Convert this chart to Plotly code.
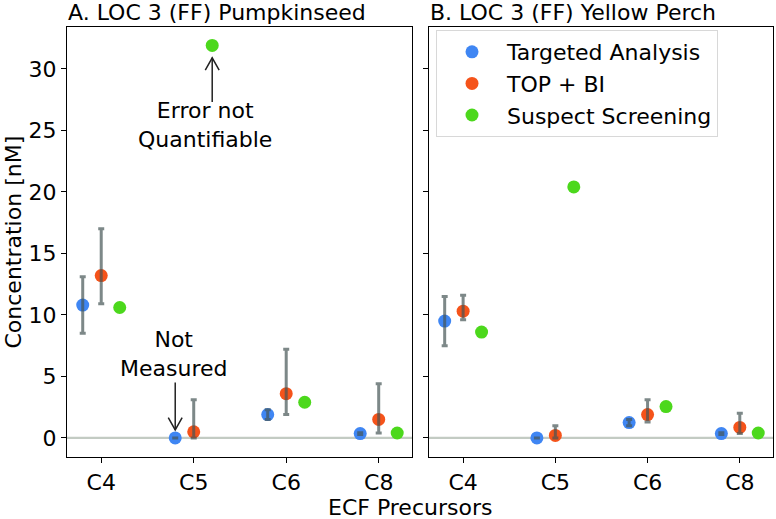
import plotly.graph_objects as go

categories = ["C4", "C5", "C6", "C8"]
series_names = ["Targeted Analysis", "TOP + BI", "Suspect Screening"]
colors = ["#3f86f3", "#f5531a", "#4cd81c"]
offsets = [-0.2, 0.0, 0.2]

# Panel A: LOC 3 (FF) Pumpkinseed
a_targeted = [10.8, 0.0, 1.9, 0.35]
a_targeted_lo = [8.5, 0.0, 1.5, 0.28]
a_targeted_hi = [13.1, 0.0, 2.3, 0.42]
a_top = [13.2, 0.5, 3.6, 1.5]
a_top_lo = [10.9, 0.0, 1.9, 0.4]
a_top_hi = [17.0, 3.1, 7.2, 4.4]
a_suspect = [10.6, 31.9, 2.9, 0.4]

# Panel B: LOC 3 (FF) Yellow Perch
b_targeted = [9.5, 0.0, 1.25, 0.35]
b_targeted_lo = [7.5, 0.0, 1.0, 0.28]
b_targeted_hi = [11.5, 0.0, 1.5, 0.42]
b_top = [10.3, 0.2, 1.9, 0.85]
b_top_lo = [9.6, 0.0, 1.3, 0.35]
b_top_hi = [11.6, 1.0, 3.1, 2.0]
b_suspect = [8.6, 20.4, 2.55, 0.4]

yticks = [0, 5, 10, 15, 20, 25, 30]

FONT = "DejaVu Sans"
FS = 22
ERRC = "rgba(70,85,85,0.7)"

fig = go.Figure()

panels = [
    ("x", "y", [a_targeted, a_top, a_suspect],
     [(a_targeted_lo, a_targeted_hi), (a_top_lo, a_top_hi), None]),
    ("x2", "y2", [b_targeted, b_top, b_suspect],
     [(b_targeted_lo, b_targeted_hi), (b_top_lo, b_top_hi), None]),
]

xs_idx = list(range(len(categories)))
for pi, (xa, ya, vals, errs) in enumerate(panels):
    # zero line
    fig.add_trace(go.Scatter(x=[-1, 5], y=[0, 0], mode="lines",
                             line=dict(color="#c3cbc3", width=2.2),
                             xaxis=xa, yaxis=ya, showlegend=False, hoverinfo="skip"))
    for si in range(3):
        xpos = [i + offsets[si] for i in xs_idx]
        fig.add_trace(go.Scatter(
            x=xpos, y=vals[si], mode="markers", name=series_names[si],
            marker=dict(color=colors[si], size=13, line=dict(width=0)),
            xaxis=xa, yaxis=ya, showlegend=(pi == 1), legendgroup=series_names[si]))
    # error bars drawn on top of markers
    for si in range(3):
        if errs[si] is None:
            continue
        lo, hi = errs[si]
        xpos = [i + offsets[si] for i in xs_idx]
        fig.add_trace(go.Scatter(
            x=xpos, y=vals[si], mode="markers",
            marker=dict(color="rgba(0,0,0,0)", size=1),
            error_y=dict(type="data", symmetric=False,
                         array=[h - v for h, v in zip(hi, vals[si])],
                         arrayminus=[v - l for v, l in zip(vals[si], lo)],
                         color=ERRC, thickness=3, width=3),
            xaxis=xa, yaxis=ya, showlegend=False, hoverinfo="skip"))

W, H = 776, 519
xd1 = [67 / W, 412 / W]
xd2 = [429 / W, 773 / W]
yd = [1 - 457 / H, 1 - 27 / H]

axis_common = dict(showline=True, linecolor="black", linewidth=1.3, mirror=True,
                   ticks="outside", ticklen=5, tickwidth=1.2, tickcolor="black",
                   showgrid=False, zeroline=False,
                   tickfont=dict(family=FONT, size=FS, color="black"))
xrange_ = [-0.37, 3.36]
yrange_ = [-1.55, 33.4]

fig.update_layout(
    width=W, height=H,
    margin=dict(l=0, r=0, t=0, b=0),
    paper_bgcolor="white", plot_bgcolor="white",
    font=dict(family=FONT, size=FS, color="black"),
    xaxis=dict(domain=xd1, range=xrange_, tickvals=xs_idx, ticktext=categories, **axis_common),
    xaxis2=dict(domain=xd2, range=xrange_, tickvals=xs_idx, ticktext=categories, anchor="y2", **axis_common),
    yaxis=dict(domain=yd, range=yrange_, tickvals=yticks, anchor="x", **axis_common),
    yaxis2=dict(domain=yd, range=yrange_, tickvals=yticks, showticklabels=False, anchor="x2",
                matches="y", **axis_common),
    legend=dict(x=436 / W, y=1 - 30 / H, xanchor="left", yanchor="top",
                bgcolor="rgba(255,255,255,0.85)", bordercolor="#d8d8d8", borderwidth=1,
                font=dict(family=FONT, size=FS, color="black"),
                itemwidth=60, tracegroupgap=0),
    showlegend=True,
)

annotations = [
    dict(text="A. LOC 3 (FF) Pumpkinseed", xref="paper", yref="paper",
         x=xd1[0] - 0.001, y=yd[1], xanchor="left", yanchor="bottom", yshift=0,
         showarrow=False, font=dict(family=FONT, size=FS)),
    dict(text="B. LOC 3 (FF) Yellow Perch", xref="paper", yref="paper",
         x=xd2[0] - 0.001, y=yd[1], xanchor="left", yanchor="bottom", yshift=0,
         showarrow=False, font=dict(family=FONT, size=FS)),
    dict(text="ECF Precursors", xref="paper", yref="paper", x=410 / W, y=0,
         xanchor="center", yanchor="bottom", yshift=-3, showarrow=False,
         font=dict(family=FONT, size=FS)),
    dict(text="Concentration [nM]", xref="paper", yref="paper", x=0, y=(yd[0] + yd[1]) / 2,
         xanchor="left", yanchor="middle", textangle=-90, showarrow=False, xshift=-2,
         font=dict(family=FONT, size=FS)),
    dict(text="Error not<br>Quantifiable", xref="x", yref="y", x=1.12, y=27.8,
         xanchor="center", yanchor="top", showarrow=False,
         font=dict(family=FONT, size=FS)),
    dict(text="Not<br>Measured", xref="x", yref="y", x=0.78, y=9.2,
         xanchor="center", yanchor="top", showarrow=False,
         font=dict(family=FONT, size=FS)),
]
fig.update_layout(annotations=annotations)

# arrows
shapes = []
def arrow(x, y0, y1, hw=0.075, hh=1.0):
    d = -1 if y1 > y0 else 1
    shapes.append(dict(type="line", xref="x", yref="y", x0=x, x1=x, y0=y0, y1=y1,
                       line=dict(color="#222", width=1.5)))
    shapes.append(dict(type="path", xref="x", yref="y",
                       path=f"M {x-hw},{y1 + d*hh} L {x},{y1} L {x+hw},{y1 + d*hh}",
                       line=dict(color="#222", width=1.5)))
arrow(1.2, 27.3, 30.9)
arrow(0.8, 4.5, 0.65)
fig.update_layout(shapes=shapes)

fig.write_html("out.html", config={"displayModeBar": False},
               post_script="document.body.style.margin='0';document.body.style.overflow='hidden';")
